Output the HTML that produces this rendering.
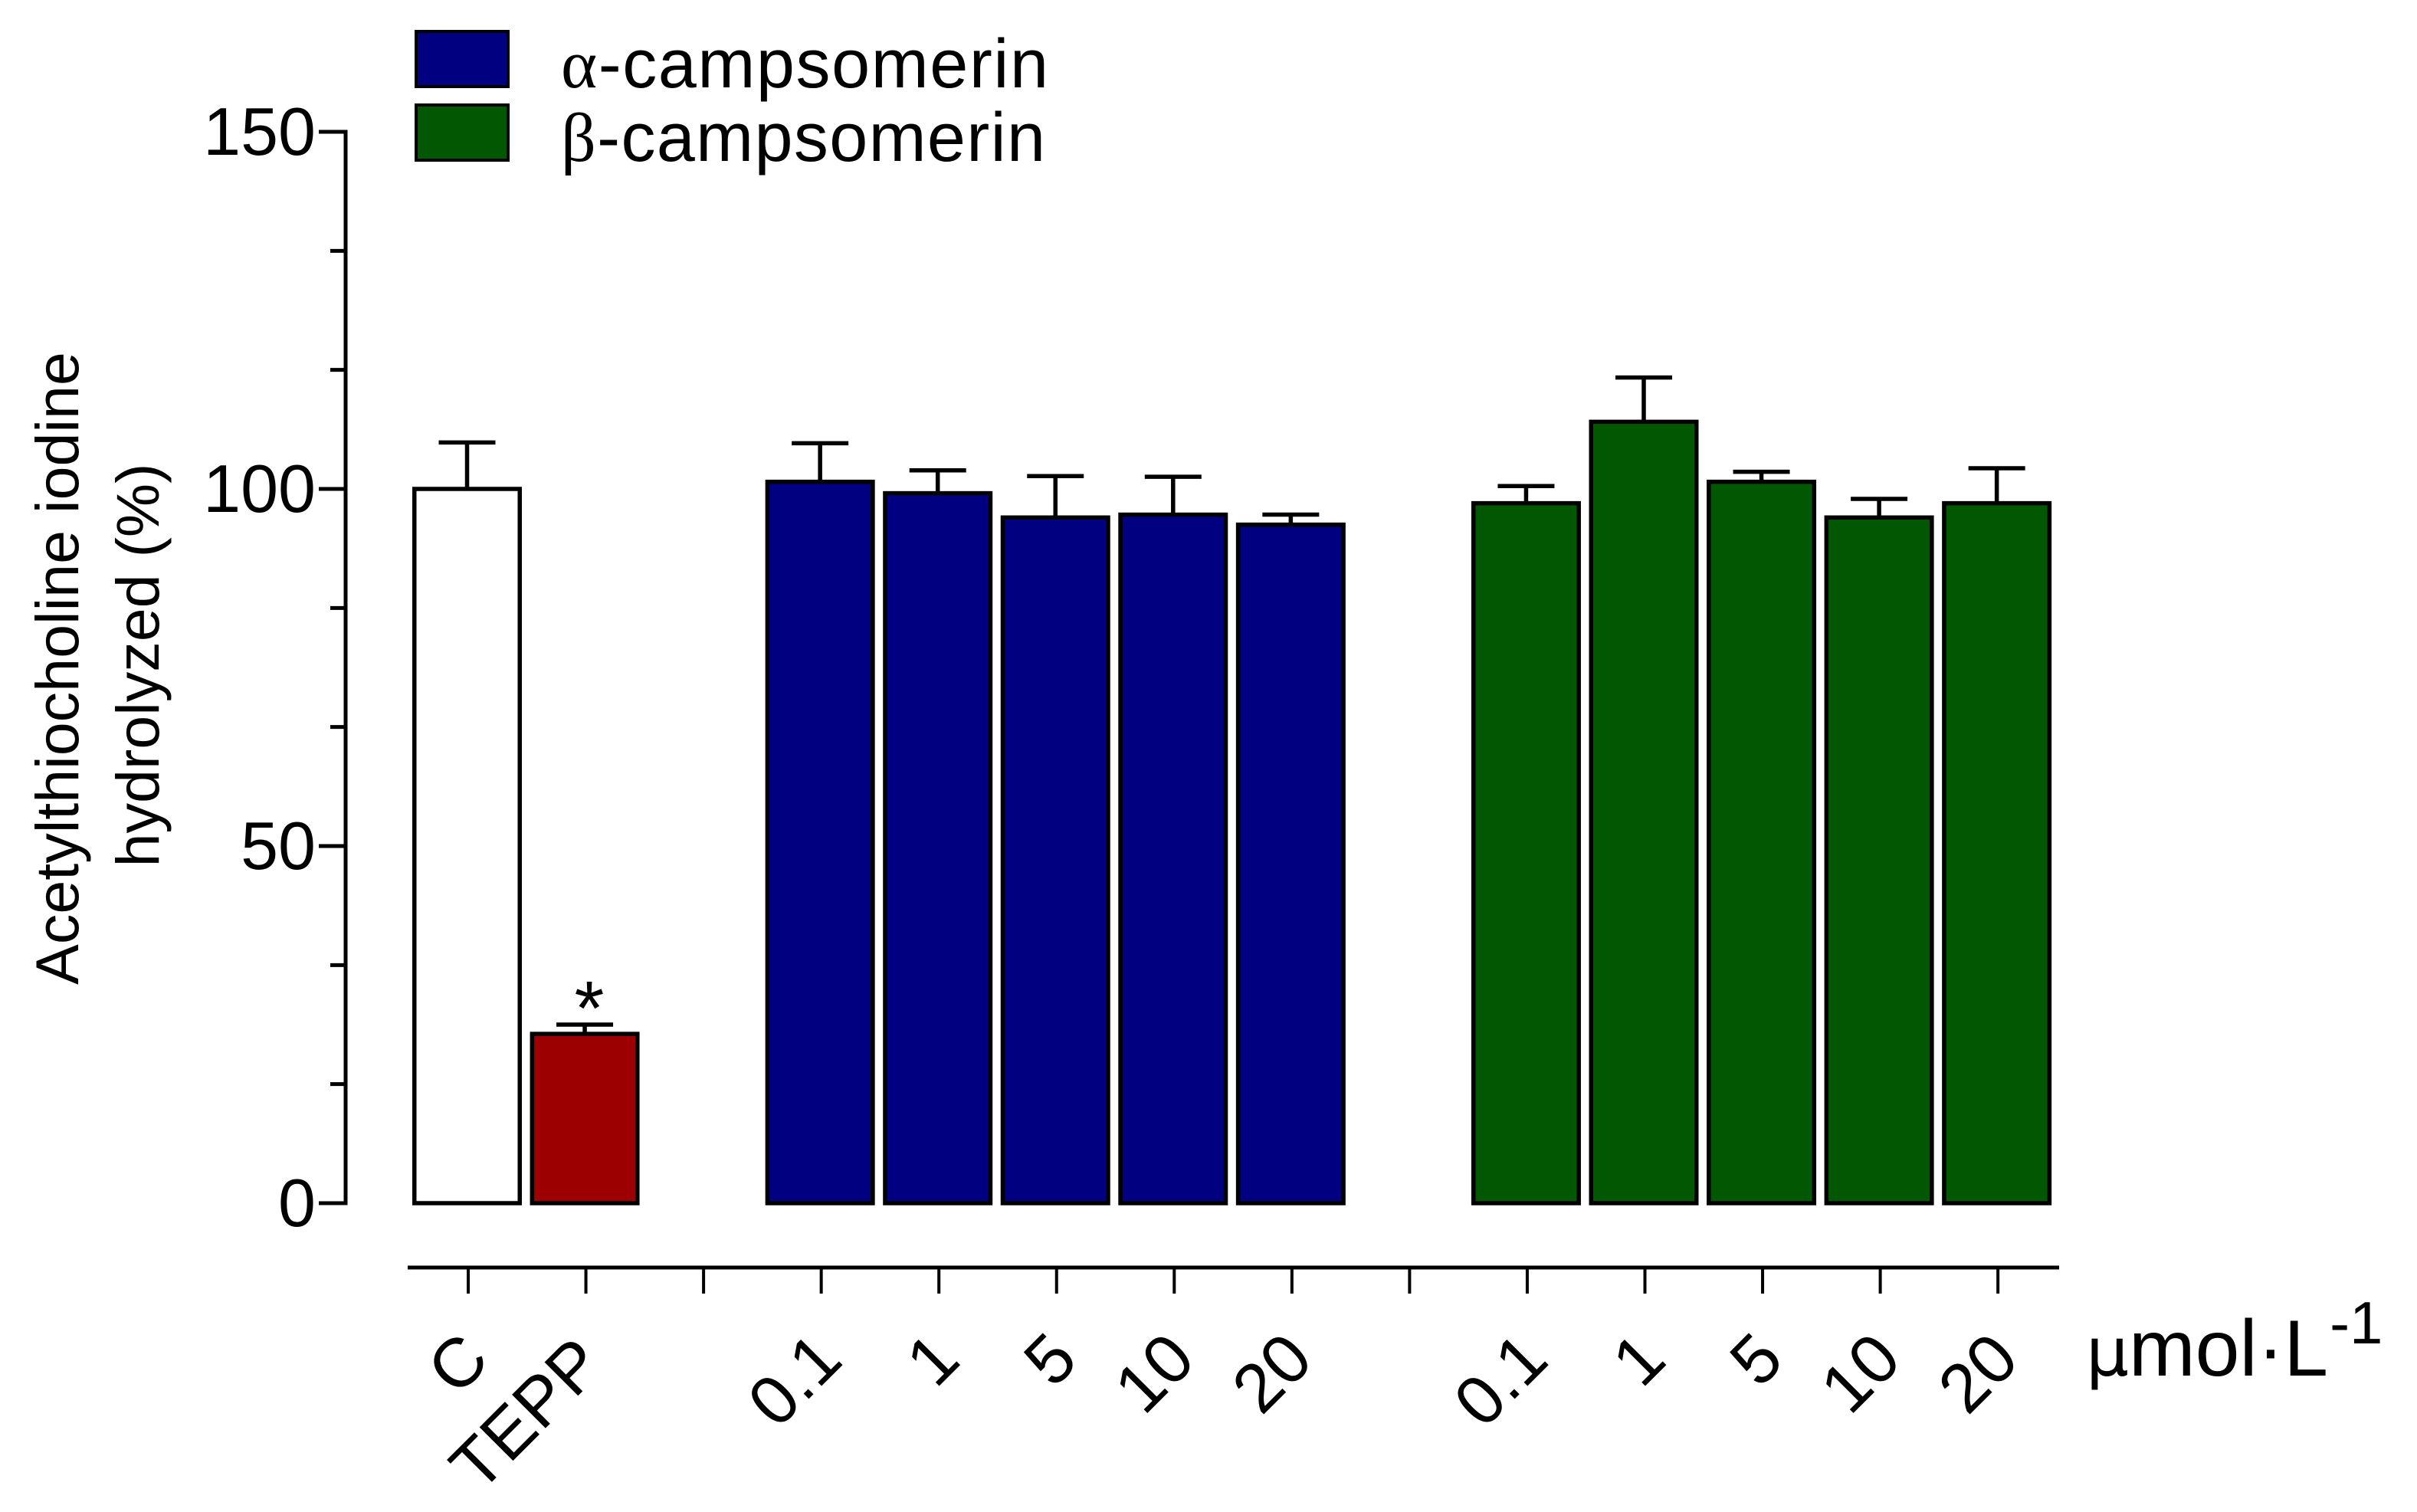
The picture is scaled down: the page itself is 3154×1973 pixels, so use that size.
<!DOCTYPE html>
<html lang="en">
<head>
<meta charset="utf-8">
<title>Acetylthiocholine iodine hydrolyzed</title>
<style>
html,body{margin:0;padding:0;background:#fff;}
svg{display:block;font-family:"Liberation Sans",sans-serif;fill:#000;}
</style>
</head>
<body>
<svg id="chart" xmlns="http://www.w3.org/2000/svg" width="3154" height="1973" viewBox="0 0 3154 1973">
  <rect x="0" y="0" width="3154" height="1973" fill="#fff"/>
  <g>
    <rect x="543" y="41" width="120" height="72" fill="#000080" stroke="#000" stroke-width="4"/>
    <text x="732" y="114" font-size="90" textLength="636"><tspan font-family="'Liberation Serif',serif">α</tspan>-campsomerin</text>
    <rect x="543" y="137" width="120" height="72" fill="#025802" stroke="#000" stroke-width="4"/>
    <text x="732" y="210" font-size="90" textLength="632"><tspan font-family="'Liberation Serif',serif">β</tspan>-campsomerin</text>
  </g>
  <g font-size="79" text-anchor="middle">
    <text transform="translate(102 872) rotate(-90)">Acetylthiocholine iodine</text>
    <text transform="translate(207 868) rotate(-90)">hydrolyzed (%)</text>
  </g>
  <g id="y-axis"></g>
  <g id="bars"></g>
  <g id="x-axis"></g>
  <text x="769" y="1350" font-size="100" text-anchor="middle">*</text>
  <text x="2722" y="1795" font-size="104"><tspan font-family="'DejaVu Sans',sans-serif" font-size="88">μ</tspan>mol·L<tspan dy="-42" dx="2" font-size="78">-1</tspan></text>
</svg>
<script>
const categories = ["C", "TEPP", "", "0.1", "1", "5", "10", "20", "", "0.1", "1", "5", "10", "20"];
const barValues = [100, 23.7, null, 101, 99.4, 96, 96.4, 95, null, 98, 109.4, 101, 96, 98];
const errorTops = [106.5, 25, null, 106.4, 102.6, 101.8, 101.7, 96.4, null, 100.4, 115.6, 102.4, 98.6, 102.9];
const barGroups = ["control", "tepp", null, "alpha", "alpha", "alpha", "alpha", "alpha", null, "beta", "beta", "beta", "beta", "beta"];
const yTickValues = [0, 50, 100, 150];
const yMinorTickValues = [16.67, 33.33, 66.67, 83.33, 116.67, 133.33];

const groupFill = {control: "#ffffff", tepp: "#9c0000", alpha: "#000080", beta: "#025802"};
const NS = "http://www.w3.org/2000/svg";
function yScale(v) { return 1570 - v * 9.32; }
function xScale(i) { return 611 + i * 153.55; }
function make(tag, attrs, parent) {
  const el = document.createElementNS(NS, tag);
  for (const k in attrs) el.setAttribute(k, attrs[k]);
  parent.appendChild(el);
  return el;
}

const yAxis = document.getElementById("y-axis");
const barsLayer = document.getElementById("bars");
const xAxis = document.getElementById("x-axis");

const yLine = make("line", {x1: 451, x2: 451, y1: yScale(150) - 2.5, y2: yScale(0) + 2.5, stroke: "#000", "stroke-width": 5}, yAxis);



yTickValues.forEach(function (v) {
  const tick = make("line", {x1: 416, x2: 451, y1: yScale(v), y2: yScale(v), stroke: "#000", "stroke-width": 5}, yAxis);
  
  
  const label = make("text", {x: 412, y: yScale(v) + 30, "font-size": 88, "text-anchor": "end"}, yAxis);
  
  
  label.textContent = String(v);
});

yMinorTickValues.forEach(function (v) {
  const tick = make("line", {x1: 431, x2: 451, y1: yScale(v), y2: yScale(v), stroke: "#000", "stroke-width": 5}, yAxis);
  
  
});

const barOuterWidth = 143;
const stroke = 5.5;
barValues.forEach(function (v, i) {
  if (v === null) return;
  const cx = xScale(i) - 1.5;
  const top = yScale(v);
  const base = yScale(0);
  const errTop = yScale(errorTops[i]);

  const stem = make("line", {x1: cx, x2: cx, y1: errTop, y2: top, stroke: "#000", "stroke-width": 5.5}, barsLayer);
  
  
  const cap = make("line", {x1: cx - 37, x2: cx + 37, y1: errTop, y2: errTop, stroke: "#000", "stroke-width": 5.5}, barsLayer);
  
  

  const bar = make("rect", {
    x: cx - barOuterWidth / 2 + stroke / 2,
    y: top,
    width: barOuterWidth - stroke,
    height: base - top,
    fill: groupFill[barGroups[i]],
    stroke: "#000",
    "stroke-width": stroke
  }, barsLayer);
  
  
});

const xLine = make("line", {x1: 532, x2: 2687, y1: 1654, y2: 1654, stroke: "#000", "stroke-width": 5}, xAxis);



categories.forEach(function (c, i) {
  const tx = xScale(i);
  const tick = make("line", {x1: tx, x2: tx, y1: 1654, y2: 1688, stroke: "#000", "stroke-width": 4}, xAxis);
  
  
  if (c === "") return;
  const isLong = c === "TEPP";
  const ex = isLong ? tx + 27 : tx + 31;
  const ey = isLong ? 1784 : 1778;
  const label = make("text", {
    "font-size": 90,
    "text-anchor": "end",
    transform: "translate(" + ex + " " + ey + ") rotate(-45)"
  }, xAxis);
  
  
  label.textContent = c;
});
</script>
</body>
</html>
